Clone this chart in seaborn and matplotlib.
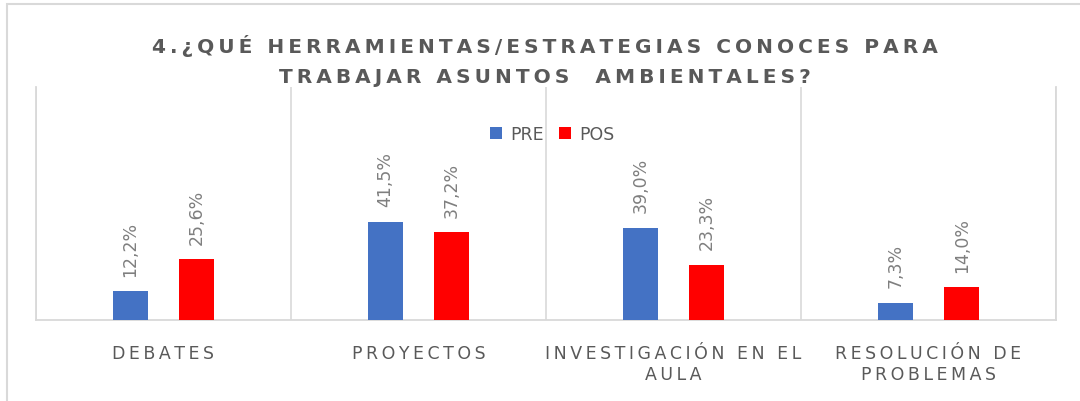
import matplotlib
matplotlib.use("Agg")
import matplotlib.pyplot as plt
import numpy as np
import pandas as pd
import seaborn as sns

# Survey answers: share of teachers naming each tool/strategy, before and after
categories = ["DEBATES", "PROYECTOS", "INVESTIGACIÓN EN EL AULA", "RESOLUCIÓN DE PROBLEMAS"]
tick_labels = ["DEBATES", "PROYECTOS", "INVESTIGACIÓN EN EL\nAULA", "RESOLUCIÓN DE\nPROBLEMAS"]
series_names = ["PRE", "POS"]
pre_values = [12.2, 41.5, 39.0, 7.3]
pos_values = [25.6, 37.2, 23.3, 14.0]
title_lines = ["4.¿QUÉ HERRAMIENTAS/ESTRATEGIAS CONOCES PARA",
               "TRABAJAR ASUNTOS  AMBIENTALES?"]

colors = {"PRE": "#4472C4", "POS": "#FF0000"}
TEXT_DARK = "#595959"
TEXT_LIGHT = "#7f7f7f"
GRID = "#d9d9d9"


def spaced(text, sep="\u2009"):
    """Open up the tracking of a label by putting thin spaces between letters."""
    return "\n".join(sep.join(line) for line in text.split("\n"))


df = pd.DataFrame({
    "categoria": categories * 2,
    "serie": [series_names[0]] * len(categories) + [series_names[1]] * len(categories),
    "valor": pre_values + pos_values,
})

sns.set_theme(style="white")
plt.rcParams["font.family"] = ["DejaVu Sans"]

W, H = 1080, 402
fig = plt.figure(figsize=(W / 100, H / 100), dpi=100)
ax = fig.add_axes([36 / W, 1 - 321 / H, (1056 - 36) / W, (321 - 88) / H])

sns.barplot(data=df, x="categoria", y="valor", hue="serie", order=categories,
            hue_order=series_names, palette=colors, saturation=1,
            width=0.52, gap=0.48, linewidth=0, errorbar=None, ax=ax, zorder=3)

# Percentage labels written vertically above each bar
for cont in ax.containers:
    vals = [b.get_height() for b in cont]
    ax.bar_label(cont, labels=[f"{v:.1f}%".replace(".", ",") for v in vals],
                 rotation=90, padding=11, color=TEXT_LIGHT, fontsize=12.5)

ax.set_ylim(0, 98.3)
ax.set_xlim(-0.5, len(categories) - 0.5)
ax.set_yticks([])
ax.set_ylabel("")
ax.set_xlabel("")

ax.set_xticks(range(len(categories)))
ax.set_xticklabels([spaced(t) for t in tick_labels], color=TEXT_DARK,
                   fontsize=12.5, linespacing=1.25)
ax.tick_params(axis="x", length=0, pad=17)

# Separators between categories
ax.set_xticks(np.arange(-0.5, len(categories), 1), minor=True)
ax.tick_params(axis="x", which="minor", length=0)
ax.grid(which="minor", axis="x", color=GRID, linewidth=1.2, zorder=0)
ax.grid(which="major", visible=False)
for side in ["left", "right", "bottom"]:
    ax.spines[side].set_color(GRID)
    ax.spines[side].set_linewidth(1.3)
ax.spines["top"].set_visible(False)

# Legend centred near the top of the plot area
ax.legend(loc="center", bbox_to_anchor=(552 / W, 1 - 135 / H),
          bbox_transform=fig.transFigure, ncol=2, frameon=False,
          fontsize=12.5, labelcolor=TEXT_DARK, handlelength=0.7,
          handleheight=0.7, handletextpad=0.45, columnspacing=0.9)

# Two-line title, one baseline per line
for line, base in zip(title_lines, [53, 83]):
    fig.text(545 / W, 1 - base / H, spaced(line), ha="center", va="baseline",
             fontsize=14.5, fontweight="bold", color=TEXT_DARK)

# Chart frame
fig.add_artist(plt.Rectangle((7 / W, -0.1), 1.2, 1.1 - 5 / H,
                             transform=fig.transFigure, fill=False,
                             edgecolor=GRID, linewidth=1.5))

fig.savefig("out.png", dpi=100, facecolor="white")
